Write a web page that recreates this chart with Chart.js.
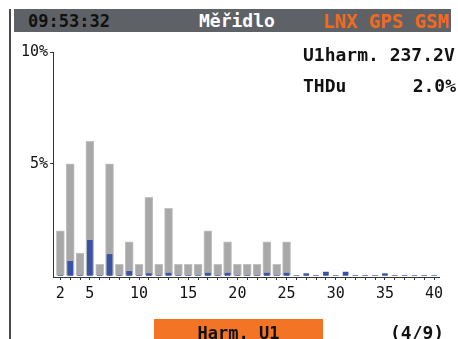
<!DOCTYPE html>
<html>
<head>
<meta charset="utf-8">
<script src="https://cdn.jsdelivr.net/npm/chart.js@4.4.1/dist/chart.umd.min.js"></script>
<style>
    html, body { margin: 0; padding: 0; background: #fff; }
    #screen { position: relative; width: 458px; height: 339px; overflow: hidden; font-family: 'DejaVu Sans Mono', monospace; }
    #chartBox { position: absolute; left: 0; top: 0; width: 458px; height: 339px; }
    .txt { position: absolute; white-space: pre; font-weight: bold; }
</style>
</head>
<body>
<div id="screen">
    <div style="position:absolute;left:9px;top:9px;width:2px;bottom:0;background:#4a4a4a;"></div>
    <div style="position:absolute;left:14px;top:9px;width:437px;height:23px;background:#5e6267;"></div>
    <div class="txt" style="left:28px;top:10px;height:22px;line-height:22px;font-size:17px;color:#111;">09:53:32</div>
    <div class="txt" style="left:199px;top:10px;height:22px;line-height:22px;font-size:18px;color:#fff;">Měřidlo</div>
    <div class="txt" style="left:323px;top:10px;height:22px;line-height:22px;font-size:19px;color:#f26a1b;">LNX GPS GSM</div>

    <div id="chartBox"><canvas id="harmChart"></canvas></div>

    <div class="txt" style="left:303px;top:44px;height:22px;line-height:22px;font-size:18px;color:#111;">U1harm. 237.2V</div>
    <div class="txt" style="left:303px;top:75px;height:22px;line-height:22px;font-size:18px;color:#111;">THDu</div>
    <div class="txt" style="right:2px;top:75px;height:22px;line-height:22px;font-size:18px;color:#111;">2.0%</div>

    <div style="position:absolute;left:154px;top:319px;width:169px;height:22px;background:#f27424;"></div>
    <div class="txt" style="left:154px;top:322px;width:169px;text-align:center;height:22px;line-height:22px;font-size:17px;color:#111;">Harm. U1</div>
    <div class="txt" style="left:390px;top:322px;height:22px;line-height:22px;font-size:18px;color:#111;">(4/9)</div>
</div>
<script>
// Harmonic spectrum: gray = limit, blue = measured
const harmonics = [2, 3, 4, 5, 6, 7, 8, 9, 10, 11, 12, 13, 14, 15, 16, 17, 18, 19, 20, 21,
    22, 23, 24, 25, 26, 27, 28, 29, 30, 31, 32, 33, 34, 35, 36, 37, 38, 39, 40];
const limitValues = [2, 5, 1, 6, 0.5, 5, 0.5, 1.5, 0.5, 3.5, 0.5, 3, 0.5, 0.5, 0.5, 2, 0.5, 1.5, 0.5, 0.5,
    0.5, 1.5, 0.5, 1.5, null, null, null, null, null, null, null, null, null, null, null, null, null, null, null];
const measuredValues = [0, 0.63, 0, 1.57, 0, 0.94, 0, 0.18, 0, 0.08, 0, 0.1, 0, 0, 0, 0.1, 0, 0.1, 0, 0,
    0, 0.1, 0, 0.1, 0, 0.08, 0, 0.15, 0, 0.15, 0, 0, 0, 0.08, 0, 0, 0, 0, 0];
const yTickValues = [5, 10];
const xLabelValues = [2, 5, 10, 15, 20, 25, 30, 35, 40];

Chart.defaults.font.family = "'DejaVu Sans Mono', monospace";
Chart.defaults.color = '#111';

const ctx = document.getElementById('harmChart').getContext('2d');
new Chart(ctx, {
    type: 'bar',
    data: {
        datasets: [{
            label: 'Limit',
            data: harmonics.map((h, i) => ({ x: h, y: limitValues[i] })),
            backgroundColor: '#a8a8a8',
            borderColor: '#c2c2c2',
            borderWidth: 1,
            borderSkipped: 'bottom',
            barThickness: 8,
            grouped: false,
            order: 2
        }, {
            label: 'U1',
            data: harmonics.map((h, i) => ({ x: h, y: measuredValues[i] })),
            backgroundColor: '#3752a6',
            barThickness: 5,
            grouped: false,
            order: 1
        }]
    },
    options: {
        responsive: true,
        maintainAspectRatio: false,
        animation: false,
        layout: { padding: { top: 52, right: 19, bottom: 32, left: 0 } },
        plugins: {
            legend: { display: false },
            tooltip: { enabled: false }
        },
        scales: {
            x: {
                type: 'linear',
                min: 1.25,
                max: 40.5,
                offset: false,
                afterBuildTicks: function(scale) {
                    scale.ticks = harmonics.map(v => ({ value: v }));
                },
                afterFit: function(scale) { scale.height = 30; },
                border: { color: '#333', width: 1 },
                grid: { offset: false, drawOnChartArea: false, tickLength: 3, color: '#333' },
                ticks: {
                    autoSkip: false,
                    maxRotation: 0,
                    padding: 5,
                    font: { size: 15 },
                    callback: function(value) {
                        return xLabelValues.includes(value) ? String(value) : '';
                    }
                }
            },
            y: {
                min: -0.07,
                max: 10,
                afterBuildTicks: function(scale) {
                    scale.ticks = yTickValues.map(v => ({ value: v }));
                },
                afterFit: function(scale) { scale.width = 53; },
                border: { color: '#333', width: 1 },
                grid: { drawOnChartArea: false, tickLength: 3, color: '#333' },
                ticks: {
                    padding: 2,
                    font: { size: 15 },
                    callback: function(value) { return value + '%'; }
                }
            }
        }
    }
});
</script>
</body>
</html>
